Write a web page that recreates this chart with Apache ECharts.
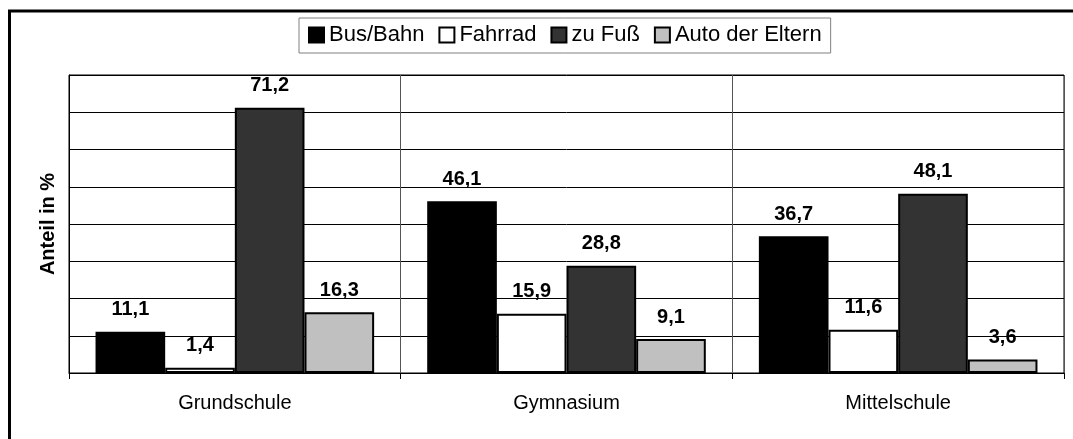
<!DOCTYPE html>
<html>
<head>
<meta charset="utf-8">
<script src="https://cdn.jsdelivr.net/npm/echarts@6/dist/echarts.min.js"></script>
<style>
  html, body { margin: 0; padding: 0; background: #fff; }
  #chart { width: 1073px; height: 439px; }
</style>
</head>
<body>
<div id="chart"></div>
<script>
// Schulart
const categories = ["Grundschule", "Gymnasium", "Mittelschule"];

// Anteil in % je Verkehrsmittel
const busBahn = [11.1, 46.1, 36.7];
const fahrrad = [1.4, 15.9, 11.6];
const zuFuss = [71.2, 28.8, 48.1];
const autoEltern = [16.3, 9.1, 3.6];

const seriesNames = ["Bus/Bahn", "Fahrrad", "zu Fuß", "Auto der Eltern"];
const seriesColors = ["#000000", "#ffffff", "#333333", "#c0c0c0"];

const FONT = "Arial, 'Liberation Sans', sans-serif";

// Dezimalkomma
function fmt(p) {
  return p.value.toFixed(1).replace(".", ",");
}

function makeSeries(name, data, color) {
  return {
    name: name,
    type: "bar",
    data: data,
    barGap: "0%",
    barCategoryGap: "16%",
    itemStyle: { color: color, borderColor: "#000", borderWidth: 2 },
    label: {
      show: true,
      position: "top",
      distance: 12,
      formatter: fmt,
      color: "#000",
      fontFamily: FONT,
      fontWeight: "bold",
      fontSize: 20,
    },
  };
}

const chart = echarts.init(document.getElementById("chart"), null, { renderer: "canvas" });

chart.setOption({
  animation: false,
  backgroundColor: "#fff",
  textStyle: { fontFamily: FONT },
  graphic: [
    {
      type: "rect",
      silent: true,
      z: -1,
      shape: { x: 9.5, y: 11, width: 1200, height: 600 },
      style: { fill: "none", stroke: "#000", lineWidth: 3 },
    },
  ],
  legend: {
    left: 299,
    top: 18,
    padding: [6, 9, 7, 9],
    borderColor: "#808080",
    borderWidth: 1,
    icon: "rect",
    itemWidth: 15,
    itemHeight: 15,
    itemGap: 14,
    textStyle: { color: "#000", fontFamily: FONT, fontSize: 22 },
    data: seriesNames,
  },
  grid: {
    left: 69,
    right: 9,
    top: 75,
    bottom: 66,
    show: true,
    borderColor: "#000",
    borderWidth: 1,
    containLabel: false,
  },
  xAxis: {
    type: "category",
    data: categories,
    axisLine: { lineStyle: { color: "#000", width: 1 } },
    axisTick: { show: true, length: 6, lineStyle: { color: "#000" } },
    splitLine: { show: true, interval: 0, lineStyle: { color: "#555", width: 1 } },
    axisLabel: { color: "#000", fontFamily: FONT, fontSize: 20, margin: 20 },
  },
  yAxis: {
    type: "value",
    min: 0,
    max: 80,
    interval: 10,
    name: "Anteil in %",
    nameLocation: "middle",
    nameRotate: 90,
    nameGap: 11,
    nameTextStyle: { color: "#000", fontFamily: FONT, fontWeight: "bold", fontSize: 20 },
    axisLine: { show: true, lineStyle: { color: "#000" } },
    axisTick: { show: false },
    axisLabel: { show: false },
    splitLine: { show: true, lineStyle: { color: "#000", width: 1 } },
  },
  series: [
    makeSeries(seriesNames[0], busBahn, seriesColors[0]),
    makeSeries(seriesNames[1], fahrrad, seriesColors[1]),
    makeSeries(seriesNames[2], zuFuss, seriesColors[2]),
    makeSeries(seriesNames[3], autoEltern, seriesColors[3]),
  ],
});
</script>
</body>
</html>
